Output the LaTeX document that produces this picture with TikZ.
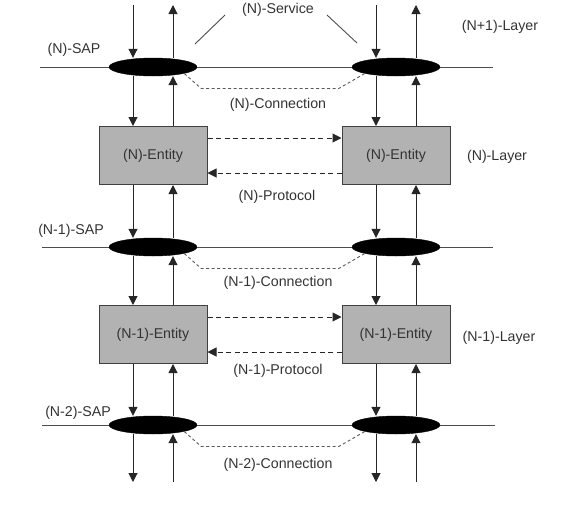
\documentclass[tikz,border=0pt]{standalone}
\usepackage{fontspec}
\setmainfont{Liberation Sans}
\usetikzlibrary{shapes.geometric, arrows.meta}

\begin{document}
\begin{tikzpicture}[x=1pt,y={(0pt,-1pt)},
  font=\fontsize{14.2}{16}\selectfont, text=black!80,
  sap/.style={ellipse, fill=black, draw=black, minimum width=88pt, minimum height=18pt, inner sep=0pt},
  entity/.style={draw=black!75, fill=black!30, line width=1pt, minimum width=108pt, minimum height=58pt, inner sep=0pt},
  flow/.style={draw=black!85, line width=1pt, -{Triangle[length=9pt,width=9pt]}},
  proto/.style={flow, dash pattern=on 5pt off 3.5pt},
  conn/.style={draw=black!65, line width=0.9pt, dash pattern=on 3pt off 2.5pt},
  rule/.style={draw=black!70, line width=0.9pt}]
\useasboundingbox (0,0) rectangle (576,520);

% layer boundaries
\draw[rule] (40,67) -- (493,67);
\draw[rule] (42,247) -- (493,247);
\draw[rule] (42,425) -- (495,425);

% service access points
\node[sap] (sap0l) at (153,67) {};
\node[sap] (sap0r) at (396,67) {};
\node[sap] (sap1l) at (153,247) {};
\node[sap] (sap1r) at (396,247) {};
\node[sap] (sap2l) at (153,425) {};
\node[sap] (sap2r) at (396,425) {};

% entities
\node[entity] (ent0l) at (153,155.5) {(N)-Entity};
\node[entity] (ent0r) at (396,155.5) {(N)-Entity};
\node[entity] (ent1l) at (153,334.5) {(N-1)-Entity};
\node[entity] (ent1r) at (396,334.5) {(N-1)-Entity};

% free ends
\coordinate (topl) at (153,5);
\coordinate (topr) at (396,5);
\coordinate (botl) at (153,482);
\coordinate (botr) at (396,482);

% vertical flows
\foreach \s in {l,r} {
  \draw[flow] ([xshift=-20pt]top\s) -- ([xshift=-20pt]sap0\s.north);
  \draw[flow] ([xshift=20pt]sap0\s.north) -- ([xshift=20pt]top\s);
  \foreach \a/\b in {sap0/ent0, ent0/sap1, sap1/ent1, ent1/sap2} {
    \draw[flow] ([xshift=-20pt]\a\s.south) -- ([xshift=-20pt]\b\s.north);
    \draw[flow] ([xshift=20pt]\b\s.north) -- ([xshift=20pt]\a\s.south);
  }
  \draw[flow] ([xshift=-20pt]sap2\s.south) -- ([xshift=-20pt]bot\s);
  \draw[flow] ([xshift=20pt]bot\s) -- ([xshift=20pt]sap2\s.south);
}

% protocols
\foreach \i in {0,1} {
  \draw[proto] ([yshift=17.5pt]ent\i l.east) -- ([yshift=17.5pt]ent\i r.west);
  \draw[proto] ([yshift=-17.5pt]ent\i r.west) -- ([yshift=-17.5pt]ent\i l.east);
}

% connections
\foreach \i in {0,1,2} {
  \draw[conn] (sap\i l.south east) -- ([shift={(17,15)}]sap\i l.south east)
    -- ([shift={(-26,15)}]sap\i r.south west) -- (sap\i r.south west);
}

% labels
\node (svc) at (278,10) {(N)-Service};
\draw[rule] ([shift={(-53,5)}]svc.center) -- ++(-30,29);
\draw[rule] ([shift={(49,5)}]svc.center) -- ++(30,28);

\node (sapN) at (74,50) {(N)-SAP};
\node (sapM) at (71,231) {(N-1)-SAP};
\node (sapK) at (78,413) {(N-2)-SAP};

\node (conN) at (278,105) {(N)-Connection};
\node (conM) at (278,283) {(N-1)-Connection};
\node (conK) at (278,465) {(N-2)-Connection};

\node (proN) at (277,197) {(N)-Protocol};
\node (proM) at (278,371) {(N-1)-Protocol};

\node (layP) at (500,27) {(N+1)-Layer};
\node (layN) at (497,157) {(N)-Layer};
\node (layM) at (499,338) {(N-1)-Layer};
\end{tikzpicture}
\end{document}
